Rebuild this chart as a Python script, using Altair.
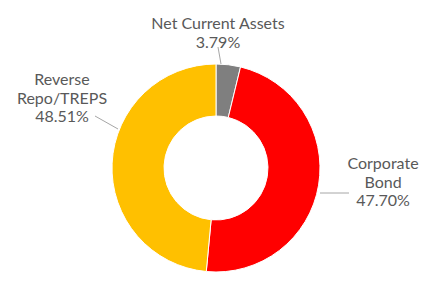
import altair as alt
import pandas as pd

categories = ["Net Current Assets", "Corporate Bond", "Reverse Repo/TREPS"]
values = [3.79, 47.70, 48.51]
label_text = ["Net Current Assets\n3.79%", "Corporate\nBond\n47.70%", "Reverse\nRepo/TREPS\n48.51%"]
colors = ["#7F7F7F", "#FF0000", "#FFC000"]

# layout (pixels) for annotations
CX, CY = 216, 168
label_x = [218, 383, 62]
label_y = [24, 164, 80]
lead_x1 = [218, 320, 95]
lead_y1 = [47, 193, 116]
lead_x2 = [221, 349, 118]
lead_y2 = [64, 193, 129]

df = pd.DataFrame({"cat": categories, "val": values, "ord": [0, 1, 2]})
lab = pd.DataFrame({"t": label_text, "x": label_x, "y": label_y})
lead = pd.DataFrame({"x": lead_x1, "y": lead_y1, "x2": lead_x2, "y2": lead_y2})

arc = alt.Chart(df).mark_arc(innerRadius=52, outerRadius=104, stroke="white", strokeWidth=1).encode(
    theta=alt.Theta("val:Q", stack=True),
    order=alt.Order("ord:Q"),
    color=alt.Color("cat:N", scale=alt.Scale(domain=categories, range=colors), legend=None),
    x=alt.value(CX),
    y=alt.value(CY),
)

rules = alt.Chart(lead).mark_rule(color="#A6A6A6", strokeWidth=1).encode(
    x=alt.X("x:Q", scale=None), y=alt.Y("y:Q", scale=None),
    x2="x2:Q", y2="y2:Q",
)

texts = alt.Chart(lab).mark_text(
    font="Lato", fontSize=16, color="#595959", align="center", baseline="middle",
    lineBreak="\n", lineHeight=18.5,
).encode(
    x=alt.X("x:Q", scale=None), y=alt.Y("y:Q", scale=None), text="t:N",
)

chart = alt.layer(arc, rules, texts).properties(
    width=435, height=285, autosize=alt.AutoSizeParams(type="none"), padding=0,
    background="white",
).configure_view(stroke=None)

chart.save("out.html", embed_options={"renderer": "svg", "actions": False})
